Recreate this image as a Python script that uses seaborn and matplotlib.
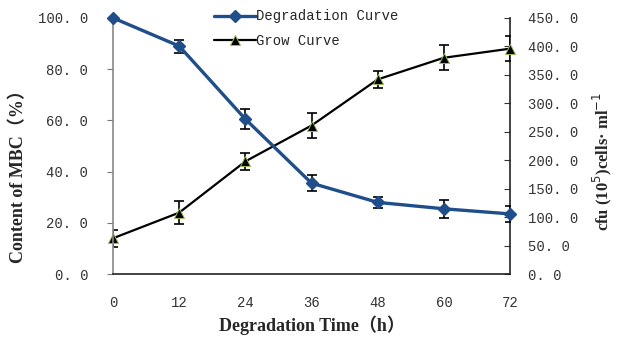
import numpy as np
import pandas as pd
import seaborn as sns
from matplotlib import pyplot as plt
from matplotlib.lines import Line2D

# data
hours = [0, 12, 24, 36, 48, 60, 72]
mbc_content = [100.0, 89.0, 60.5, 35.5, 28.0, 25.5, 23.5]
mbc_err = [0.0, 2.5, 4.0, 3.0, 2.0, 3.5, 3.0]
cfu_count = [63.0, 108.0, 198.0, 261.0, 342.0, 380.0, 396.0]
cfu_err = [15.0, 20.0, 15.0, 22.0, 15.0, 22.0, 22.0]

left_ticks = [0, 20, 40, 60, 80, 100]
right_ticks = [0, 50, 100, 150, 200, 250, 300, 350, 400, 450]

sns.set_style("white")
plt.rcParams['font.family'] = ['Liberation Serif', 'Noto Sans CJK SC', 'DejaVu Sans']

blue = "#1f4e8a"
tri_edge = "#9bbb59"
tick_font = dict(family=['Liberation Mono', 'DejaVu Sans Mono'], size=10, color="#333333")
label_font = dict(family=['Liberation Serif', 'Noto Sans CJK SC'], size=13, weight="bold")

df = pd.DataFrame({"h": hours, "mbc": mbc_content, "cfu": cfu_count})

fig = plt.figure(figsize=(6.19, 3.38), dpi=100)
ax = fig.add_axes([0.1826, 0.189, 0.6414, 0.758])
ax2 = ax.twinx()

# degradation curve
ax.errorbar(hours, mbc_content, yerr=mbc_err, fmt="none", ecolor="black",
            elinewidth=1.2, capsize=3.5, capthick=1.2, zorder=3)
sns.lineplot(data=df, x="h", y="mbc", ax=ax, color=blue, lw=2.4, zorder=4)
ax.plot(hours, mbc_content, ls="none", marker="D", markersize=6,
        markerfacecolor=blue, markeredgecolor=blue, zorder=5, clip_on=False)

# grow curve
ax2.errorbar(hours, cfu_count, yerr=cfu_err, fmt="none", ecolor="black",
             elinewidth=1.2, capsize=3.5, capthick=1.2, zorder=3)
sns.lineplot(data=df, x="h", y="cfu", ax=ax2, color="black", lw=1.6, zorder=4)
ax2.plot(hours, cfu_count, ls="none", marker="^", markersize=7.5,
         markerfacecolor="black", markeredgecolor=tri_edge,
         markeredgewidth=0.7, zorder=5, clip_on=False)

ax.set_xlim(0, 72)
ax.set_ylim(0, 100)
ax2.set_ylim(0, 450)
ax.set_xticks(hours)
ax.set_xticklabels([str(h) for h in hours], **tick_font)
ax.set_yticks(left_ticks)
ax.set_yticklabels(["%d. 0" % v for v in left_ticks], **tick_font)
ax2.set_yticks(right_ticks)
ax2.set_yticklabels(["%d. 0" % v for v in right_ticks], **tick_font)

ax.tick_params(axis="x", direction="in", length=4, pad=16, color="#333333")
ax.tick_params(axis="y", direction="out", length=4, pad=14, color="#777777", left=True)
ax2.tick_params(axis="y", direction="in", length=4, pad=13, color="#333333", right=True)

for a in (ax, ax2):
    a.spines["top"].set_visible(False)
ax.spines["right"].set_visible(False)
ax.spines["left"].set_color("#888888")
ax.spines["bottom"].set_color("#222222")
ax2.spines["left"].set_visible(False)
ax2.spines["bottom"].set_visible(False)
ax2.spines["right"].set_color("#222222")
for s in ("left", "bottom", "right"):
    ax.spines[s].set_linewidth(1.2)
    ax2.spines[s].set_linewidth(1.2)

ax.set_xlabel("Degradation Time（h）", labelpad=4, **label_font)
ylab = ax.set_ylabel("Content of MBC（%）", **label_font)
ylab.set_va("center")
ax.yaxis.set_label_coords(-0.239, 0.40)

rlab = ax2.set_ylabel("cfu (10$^5$)cells· ml$^{-1}$",
                      family=['Liberation Serif', 'Noto Sans CJK SC'], size=12, weight="bold")
rlab.set_va("center")
ax2.yaxis.set_label_coords(1.232, 0.44)

handles = [
    Line2D([], [], color=blue, lw=2.4, marker="D", markersize=6),
    Line2D([], [], color="black", lw=1.6, marker="^", markersize=7.5,
           markerfacecolor="black", markeredgecolor=tri_edge, markeredgewidth=0.7),
]
leg = ax.legend(handles, ["Degradation Curve", "Grow Curve"], loc="upper left",
                bbox_to_anchor=(0.24, 1.055), frameon=False, handlelength=3,
                handletextpad=0.05, labelspacing=0.75, borderaxespad=0,
                prop=dict(family=['Liberation Mono', 'DejaVu Sans Mono'], size=10))
ax2.set_zorder(ax.get_zorder() - 1)
ax.patch.set_visible(False)

fig.savefig("out.png", dpi=100)
